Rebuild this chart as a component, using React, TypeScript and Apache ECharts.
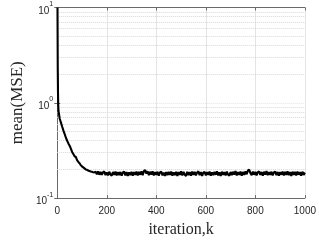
import React, { useEffect, useRef } from "react";
import * as echarts from "echarts";

// First few iterations (steep initial drop)
const headIterations = [1, 2, 3, 4];
const headMse = [10, 2.4, 1.3, 0.95];

// mean(MSE) sampled every 5 iterations from k = 5 to k = 1000
const stepStart = 5;
const stepSize = 5;
const stepMse = [
  // 5 - 150
  0.82, 0.68, 0.62, 0.56, 0.51, 0.47, 0.43, 0.40, 0.375, 0.355,
  0.33, 0.305, 0.29, 0.275, 0.27, 0.25, 0.24, 0.232, 0.222, 0.215,
  0.21, 0.205, 0.2, 0.198, 0.195, 0.192, 0.19, 0.189, 0.187, 0.186,
  // 155 - 1000
  0.189, 0.178, 0.191, 0.176, 0.188, 0.175, 0.187, 0.19, 0.174, 0.186,
  0.173, 0.189, 0.177, 0.172, 0.188, 0.175, 0.19, 0.173, 0.187, 0.174,
  0.188, 0.172, 0.185, 0.19, 0.173, 0.187, 0.171, 0.186, 0.174, 0.189,
  0.172, 0.187, 0.175, 0.19, 0.173, 0.188, 0.176, 0.191, 0.174, 0.192,
  0.197, 0.181, 0.191, 0.174, 0.189, 0.176, 0.191, 0.173, 0.187, 0.175,
  0.189, 0.172, 0.186, 0.19, 0.173, 0.185, 0.171, 0.187, 0.174, 0.188,
  0.175, 0.19, 0.172, 0.186, 0.174, 0.189, 0.171, 0.187, 0.175, 0.191,
  0.173, 0.188, 0.176, 0.171, 0.189, 0.174, 0.187, 0.172, 0.19, 0.175,
  0.188, 0.173, 0.186, 0.191, 0.174, 0.187, 0.171, 0.185, 0.189, 0.173,
  0.187, 0.175, 0.19, 0.172, 0.186, 0.174, 0.188, 0.176, 0.191, 0.173,
  0.186, 0.171, 0.189, 0.175, 0.187, 0.173, 0.19, 0.176, 0.172, 0.188,
  0.174, 0.189, 0.176, 0.192, 0.173, 0.187, 0.175, 0.19, 0.172, 0.188,
  0.175, 0.191, 0.178, 0.194, 0.199, 0.183, 0.174, 0.19, 0.176, 0.188,
  0.173, 0.187, 0.19, 0.175, 0.188, 0.172, 0.189, 0.176, 0.192, 0.174,
  0.187, 0.175, 0.189, 0.173, 0.186, 0.19, 0.174, 0.188, 0.172, 0.187,
  0.176, 0.19, 0.173, 0.188, 0.175, 0.191, 0.174, 0.187, 0.171, 0.189,
  0.175, 0.188, 0.173, 0.19, 0.176, 0.187, 0.172, 0.189, 0.175, 0.186,
];

const xTicks = [0, 200, 400, 600, 800, 1000];
const yDecades = [0.1, 1, 10];
const yMinorGrid = [0.2, 0.3, 0.4, 0.5, 0.6, 0.7, 0.8, 0.9, 2, 3, 4, 5, 6, 7, 8, 9];

const AXIS_COLOR = "#6a6a6a";
const TEXT_COLOR = "#262626";

export default function App() {
  const ref = useRef<HTMLDivElement>(null);
  useEffect(() => {
    if (!ref.current) return;
    const chart = echarts.init(ref.current, undefined, { renderer: "svg" });

    const data: [number, number][] = [];
    headIterations.forEach((k, i) => data.push([k, headMse[i]]));
    stepMse.forEach((v, i) => data.push([stepStart + i * stepSize, v]));

    const expOf = (v: number) => Math.round(Math.log10(v));

    chart.setOption({
      animation: false,
      grid: { left: 47, top: 6, right: 12, bottom: 36 },
      xAxis: [
        {
          type: "value",
          min: xTicks[0],
          max: xTicks[xTicks.length - 1],
          interval: 200,
          position: "bottom",
          axisLine: { show: true, lineStyle: { color: AXIS_COLOR, width: 1 } },
          axisTick: { show: true, inside: true, length: 3, lineStyle: { color: AXIS_COLOR } },
          axisLabel: {
            color: TEXT_COLOR,
            fontFamily: "Liberation Sans",
            fontSize: 10,
            margin: 7,
            formatter: (v: number) => String(v),
          },
          splitLine: { show: true, lineStyle: { color: "#e4e4e4", width: 1 } },
          name: "iteration,k",
          nameLocation: "middle",
          nameGap: 19,
          nameTextStyle: {
            color: TEXT_COLOR,
            fontFamily: "Liberation Serif",
            fontSize: 16,
          },
        },
        {
          type: "value",
          min: xTicks[0],
          max: xTicks[xTicks.length - 1],
          interval: 200,
          position: "top",
          axisLine: { show: true, lineStyle: { color: AXIS_COLOR, width: 1 } },
          axisTick: { show: true, inside: true, length: 3, lineStyle: { color: AXIS_COLOR } },
          axisLabel: { show: false },
          splitLine: { show: false },
        },
      ],
      yAxis: [
        {
          type: "log",
          logBase: 10,
          min: yDecades[0],
          max: yDecades[yDecades.length - 1],
          position: "left",
          axisLine: { show: true, lineStyle: { color: AXIS_COLOR, width: 1 } },
          axisTick: { show: true, inside: true, length: 3, lineStyle: { color: AXIS_COLOR } },
          axisLabel: {
            margin: 4,
            formatter: (v: number) => `{b|10}{s|${expOf(v)}}`,
            rich: {
              b: {
                color: TEXT_COLOR,
                fontFamily: "Liberation Sans",
                fontSize: 10,
                lineHeight: 15,
                verticalAlign: "bottom",
              },
              s: {
                color: TEXT_COLOR,
                fontFamily: "Liberation Sans",
                fontSize: 7,
                lineHeight: 8,
                verticalAlign: "top",
              },
            },
          },
          splitLine: { show: true, lineStyle: { color: "#e4e4e4", width: 1, type: "dotted" } },
          name: "mean(MSE)",
          nameLocation: "middle",
          nameGap: 30,
          nameTextStyle: {
            color: TEXT_COLOR,
            fontFamily: "Liberation Serif",
            fontSize: 17,
          },
        },
        {
          type: "log",
          logBase: 10,
          min: yDecades[0],
          max: yDecades[yDecades.length - 1],
          position: "right",
          axisLine: { show: true, lineStyle: { color: AXIS_COLOR, width: 1 } },
          axisTick: { show: true, inside: true, length: 3, lineStyle: { color: AXIS_COLOR } },
          axisLabel: { show: false },
          splitLine: { show: false },
        },
      ],
      series: [
        {
          type: "line",
          xAxisIndex: 0,
          yAxisIndex: 0,
          data,
          showSymbol: false,
          symbol: "none",
          lineStyle: { color: "#000000", width: 2.1 },
          z: 5,
          markLine: {
            silent: true,
            symbol: "none",
            label: { show: false },
            lineStyle: { color: "#d8d8d8", width: 1, type: "dotted" },
            data: yMinorGrid.map((v) => ({ yAxis: v })),
            z: 1,
          },
        },
      ],
    });
    return () => chart.dispose();
  }, []);
  return (
    <div
      ref={ref}
      style={{ position: "fixed", left: 0, top: 0, width: 319, height: 241 }}
    />
  );
}
